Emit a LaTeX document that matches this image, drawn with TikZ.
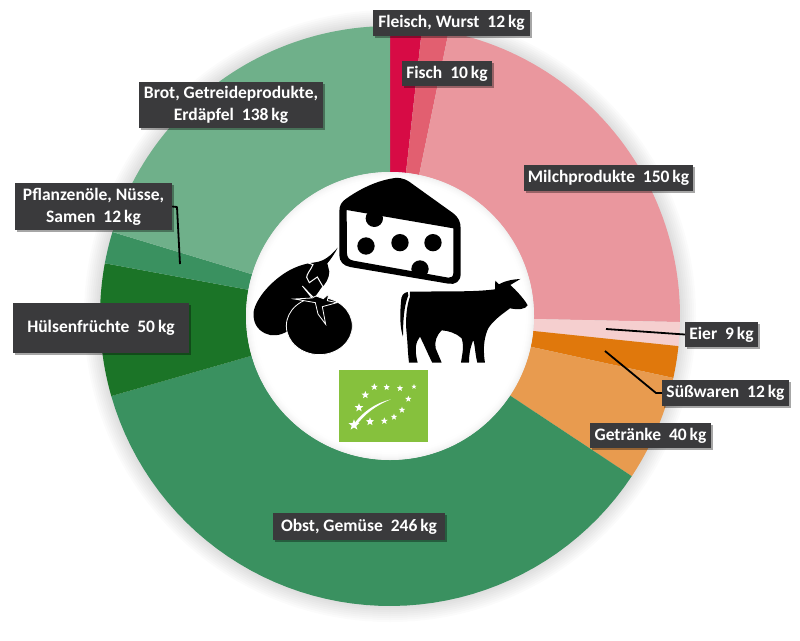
\documentclass[tikz,border=0pt]{standalone}
\usepackage{fontspec}
\setmainfont{Carlito}
\usetikzlibrary{shapes.geometric,shadows}
\definecolor{cFleisch}{HTML}{D70B45}
\definecolor{cFisch}{HTML}{E25F70}
\definecolor{cMilch}{HTML}{EA979E}
\definecolor{cEier}{HTML}{F5CFCF}
\definecolor{cSuess}{HTML}{E0780C}
\definecolor{cGetr}{HTML}{E89B4F}
\definecolor{cObst}{HTML}{3A9160}
\definecolor{cHuels}{HTML}{1B7427}
\definecolor{cPflanz}{HTML}{3A9160}
\definecolor{cBrot}{HTML}{6FB08A}
\definecolor{cLabel}{HTML}{3A3A3C}
\definecolor{cLogo}{HTML}{86C13D}
\tikzset{
  lbl/.style={fill=cLabel,text=white,font=\fontsize{17.5}{22}\selectfont\bfseries,align=center,inner sep=0pt,
    drop shadow={shadow xshift=1.5pt,shadow yshift=-1.5pt,fill=black,opacity=.35}},
  leader/.style={draw=black,line width=1.8pt,line join=round},
  logostar/.style={star,star points=5,star point ratio=2.4,fill=white,inner sep=0pt,draw=none},
  icon/.style={fill=black,draw=none},
}
\newcommand{\sector}[3]{\fill[#1] plot[domain=#2:#3,samples=50] (\x:290) -- plot[domain=#3:#2,samples=30] (\x:144) -- cycle;}
\begin{document}
\begin{tikzpicture}[x=1pt,y=-1pt]
\useasboundingbox (0,0) rectangle (800,640);
\fill[white] (0,0) rectangle (800,640);
% soft outer glow
\foreach \r in {306,304,...,290}{\fill[black,opacity=.016] (390,316) circle[radius=\r pt];}
% ring
\begin{scope}[shift={(390,316)}]
\sector{cFleisch}{-90}{-83.64}
\sector{cFisch}{-83.64}{-78.34}
\sector{cMilch}{-78.34}{1.19}
\sector{cEier}{1.19}{5.96}
\sector{cSuess}{5.96}{12.33}
\sector{cGetr}{12.33}{33.53}
\sector{cObst}{33.53}{163.97}
\sector{cHuels}{163.97}{190.48}
\sector{cPflanz}{190.48}{196.84}
\sector{cBrot}{196.84}{270}
\end{scope}
% inner disc with soft rim
\foreach \r/\g in {144/80,143/84,142/88,141/91,140/94,139/96,138/98,136/100}{\fill[white!\g!gray!55!white] (390,316) circle[radius=\r pt];}
% icons drawn in 3x crop units
\begin{scope}[shift={(240,170)},x=.3333pt,y=-.3333pt]
% cheese
\fill[icon,even odd rule] (298,125) .. controls (298,105) and (305,95) .. (320,85) .. controls (370,50) and (420,30) .. (465,24) .. controls (490,22) and (505,32) .. (520,44) -- (640,130) .. controls (655,142) and (662,155) .. (662,175) -- (662,312) .. controls (662,335) and (645,345) .. (625,341) -- (330,291) .. controls (310,287) and (298,275) .. (298,255) -- cycle
 (320,120) -- (640,175) -- (640,310) .. controls (640,320) and (633,324) .. (625,323) -- (340,272) .. controls (328,270) and (321,262) .. (321,250) -- cycle;
\fill[icon] (403,145) circle[radius=26];
\fill[icon] (378,228) circle[radius=26];
\fill[icon] (480,218) circle[radius=26];
\fill[icon] (579,218) circle[radius=26];
\fill[icon] (540,297) circle[radius=26];
% eggplant
\fill[icon] (293,233) .. controls (285,250) and (272,268) .. (262,280) -- (268,305) .. controls (268,325) and (255,345) .. (245,352) -- (215,395) -- (140,485) .. controls (120,497) and (95,500) .. (75,490) .. controls (50,478) and (38,455) .. (41,425) .. controls (48,385) and (95,330) .. (150,300) .. controls (175,287) and (200,280) .. (220,278) .. controls (240,275) and (260,272) .. cycle;
\draw[white,line width=1pt] (205,279) -- (219,284) .. controls (212,300) and (200,312) .. (200,322) -- (208,338) -- (232,321) -- (250,352);
% tomato
\fill[icon,draw=white,line width=.8pt] (238,468) circle[x radius=99,y radius=86];
\fill[icon,draw=white,line width=.8pt] (187,348) -- (216,384) -- (163,387) -- (226,398) -- (234,432) -- (257,463) -- (247,410) -- (291,398) -- (262,392) -- (266,372) -- (250,386) -- (228,378) -- (220,382) -- cycle;
% cow
\begin{scope}[shift={(465,300)}]
\fill[icon] (45,65) -- (180,64) .. controls (230,64) and (270,62) .. (300,58) -- (301,32) -- (312,43) .. controls (335,30) and (360,28) .. (376,27) -- (346,45) .. controls (365,62) and (390,90) .. (398,106) .. controls (392,118) and (370,120) .. (345,115) .. controls (325,130) and (295,150) .. (280,175) .. controls (270,195) and (262,230) .. (270,278) -- (247,278) .. controls (240,250) and (240,225) .. (235,210) .. controls (225,235) and (222,255) .. (222,278) -- (198,278) .. controls (202,250) and (208,230) .. (200,205) .. controls (185,190) and (160,182) .. (140,181) .. controls (125,195) and (118,215) .. (122,235) .. controls (128,250) and (135,265) .. (140,278) -- (112,278) .. controls (100,255) and (90,230) .. (75,200) .. controls (62,215) and (58,240) .. (68,278) -- (42,278) .. controls (38,245) and (38,215) .. (34,180) .. controls (32,150) and (34,110) .. (45,80) -- cycle;
\fill[icon] (38,66) .. controls (25,68) and (18,78) .. (18,95) .. controls (15,130) and (14,170) .. (24,200) .. controls (24,160) and (26,110) .. (40,76) -- cycle;
\end{scope}
% EU organic logo
\fill[cLogo] (297,601) rectangle (564,815);
\foreach \n/\a/\b/\s in {a/403/651/22,b/440/652/20,c/480/655/20,d/522/650/16,e/505/687/20,f/486/720/20,g/462/741/20,h/433/753/22,i/390/755/26,j/342/765/34,k/357/713/27,l/376/675/24}{
  \node[logostar,minimum size=\s*.3333pt] (star\n) at (\a,\b) {};
}
\fill[white] (335,772) .. controls (365,725) and (410,698) .. (453,688) .. controls (410,705) and (372,732) .. (345,772) -- cycle;
\end{scope}
% labels
\node[lbl,minimum width=157pt,minimum height=26pt] (fleisch) at (451.5,23) {Fleisch, Wurst\ \ 12\,kg};
\node[lbl,minimum width=90pt,minimum height=25pt] (fisch) at (447,73.5) {Fisch\ \ 10\,kg};
\node[lbl,minimum width=184pt,minimum height=46pt] (brot) at (231,105) {Brot, Getreideprodukte,\\Erdäpfel\ \ 138\,kg};
\node[lbl,minimum width=157pt,minimum height=47pt] (pflanzen) at (93.5,206.5) {Pflanzenöle, Nüsse,\\Samen\ \ 12\,kg};
\node[lbl,minimum width=176pt,minimum height=50pt] (huels) at (101,328) {Hülsenfrüchte\ \ 50\,kg};
\node[lbl,minimum width=169pt,minimum height=26pt] (milch) at (608.5,178) {Milchprodukte\ \ 150\,kg};
\node[lbl,minimum width=73pt,minimum height=25pt] (eier) at (721.5,334.5) {Eier\ \ 9\,kg};
\node[lbl,minimum width=127pt,minimum height=26pt] (suess) at (725.5,393) {Süßwaren\ \ 12\,kg};
\node[lbl,minimum width=121pt,minimum height=25pt] (getr) at (650.5,435.5) {Getränke\ \ 40\,kg};
\node[lbl,minimum width=172pt,minimum height=27pt] (obst) at (359,526.5) {Obst, Gemüse\ \ 246\,kg};
% leaders
\coordinate (eierEnd) at (606,329);
\coordinate (suessEnd) at (605,351);
\coordinate (suessKnee) at (656,393);
\coordinate (pflKnee) at (177,207);
\coordinate (pflEnd) at (180,264);
\draw[leader] (eier.west) -- (eierEnd);
\draw[leader] (suess.west) -- (suessKnee) -- (suessEnd);
\draw[leader] (pflanzen.east) -- (pflKnee) -- (pflEnd);
\end{tikzpicture}
\end{document}
